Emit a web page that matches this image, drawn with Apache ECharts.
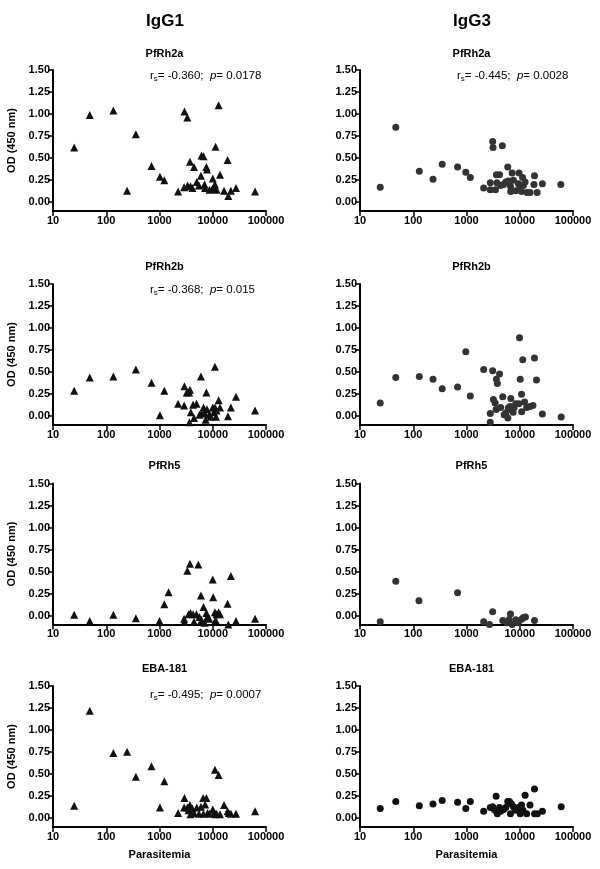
<!DOCTYPE html>
<html><head><meta charset="utf-8">
<script src="https://cdn.jsdelivr.net/npm/echarts@6/dist/echarts.min.js"></script>
<style>html,body{margin:0;padding:0;background:#fff}#c{width:600px;height:869px}</style>
</head><body><div id="c"></div>
<script>
// ---- data: [parasitemia, OD] ----
const columnTitles = ['IgG1', 'IgG3'];
const antigens = ['PfRh2a', 'PfRh2b', 'PfRh5', 'EBA-181'];
const xTicks = [10, 100, 1000, 10000, 100000];
const yTicks = [0, 0.25, 0.5, 0.75, 1, 1.25, 1.5];

const rh2a_IgG1 = [[25,0.62],[49,0.99],[136,1.04],[246,0.13],[360,0.77],[708,0.41],[1020,0.29],[1230,0.25],[2240,0.12],[2940,1.03],[3330,0.96],[2900,0.17],[3370,0.19],[3730,0.46],[3820,0.18],[4140,0.16],[4450,0.40],[5000,0.23],[5500,0.19],[6000,0.30],[6150,0.53],[6700,0.52],[7000,0.20],[7200,0.16],[7600,0.40],[7800,0.37],[8700,0.14],[9800,0.15],[10000,0.27],[10600,0.18],[11000,0.20],[11300,0.63],[11800,0.14],[12900,1.10],[13700,0.31],[16300,0.13],[19000,0.48],[19600,0.07],[21900,0.13],[27300,0.16],[62400,0.12]];
const rh2a_IgG3 = [[24,0.17],[47,0.85],[130,0.35],[235,0.26],[350,0.43],[680,0.40],[970,0.34],[1180,0.28],[2100,0.16],[2800,0.22],[2800,0.14],[3100,0.69],[3150,0.62],[3500,0.14],[3640,0.31],[3740,0.22],[4170,0.31],[4380,0.19],[4700,0.64],[4980,0.20],[5470,0.23],[5950,0.40],[6100,0.24],[6700,0.18],[6750,0.12],[7200,0.33],[7600,0.25],[8400,0.13],[9400,0.21],[9700,0.33],[10200,0.18],[10800,0.12],[11300,0.28],[11700,0.19],[12600,0.23],[13700,0.11],[15600,0.11],[18500,0.20],[18900,0.30],[21200,0.11],[26600,0.21],[59000,0.20]];
const rh2b_IgG1 = [[25,0.29],[49,0.44],[136,0.45],[360,0.53],[708,0.38],[1020,0.01],[1230,0.29],[2240,0.14],[2900,0.12],[2940,0.34],[3250,0.27],[3600,0.27],[3730,0.30],[3650,-0.07],[3870,0.045],[4270,0.13],[4450,-0.02],[4950,0.14],[5620,0.015],[6000,0.45],[6150,0.03],[6700,0.10],[7000,0.04],[7350,-0.04],[7600,0.27],[7800,0.08],[8600,0.015],[9200,-0.005],[10000,0.10],[10500,0.045],[11000,0.56],[11050,0.10],[11500,-0.005],[11800,0.065],[12900,0.18],[13700,0.10],[19300,0.0],[21900,0.10],[27300,0.22],[62400,0.065]];
const rh2b_IgG3 = [[24,0.15],[47,0.44],[130,0.45],[235,0.42],[350,0.31],[680,0.33],[970,0.73],[1180,0.23],[2100,0.53],[2800,0.03],[2790,-0.07],[3100,0.515],[3200,0.19],[3450,0.15],[3600,0.075],[3640,0.42],[3800,0.37],[4170,0.48],[4380,0.10],[4800,0.22],[5100,0.015],[5500,0.04],[5980,-0.02],[6100,0.095],[6600,0.11],[6800,0.20],[7000,0.075],[7500,0.045],[7800,0.095],[8400,0.14],[9600,0.14],[9900,0.89],[10200,0.42],[10800,0.25],[10850,0.05],[11400,0.64],[12300,0.16],[13500,0.10],[15600,0.11],[17700,0.12],[18900,0.66],[20600,0.41],[26600,0.025],[60000,-0.01]];
const rh5_IgG1 = [[25,0.01],[49,-0.06],[136,0.01],[360,-0.03],[1000,-0.06],[1230,0.13],[1480,0.265],[2940,-0.07],[2900,-0.035],[3330,0.51],[3730,0.59],[3500,0.015],[3820,0.03],[4270,0.015],[4450,-0.07],[4950,0.015],[5350,0.58],[5620,-0.015],[6000,0.23],[6150,-0.05],[6700,0.10],[7000,-0.08],[7600,0.03],[7900,-0.015],[8600,-0.035],[10000,0.41],[10200,0.21],[11000,0.04],[11300,-0.05],[11800,0.015],[12900,0.04],[13700,0.015],[19000,0.135],[19600,-0.10],[21900,0.45],[27300,-0.06],[62400,-0.035]];
const rh5_IgG3 = [[24,-0.07],[47,0.39],[128,0.17],[680,0.26],[2100,-0.07],[2700,-0.10],[3100,0.045],[4800,-0.055],[5700,-0.08],[6300,-0.045],[6700,0.02],[7200,-0.10],[8400,-0.045],[9400,-0.08],[10800,-0.04],[11700,-0.02],[12800,-0.015],[18900,-0.055]];
const eba_IgG1 = [[25,0.14],[49,1.22],[136,0.74],[246,0.755],[360,0.47],[708,0.59],[1020,0.12],[1230,0.42],[2240,0.06],[2940,0.23],[2900,0.12],[3330,0.12],[3500,0.09],[3730,0.15],[3820,0.045],[4140,0.11],[4450,0.06],[5000,0.12],[5500,0.05],[6000,0.13],[6600,0.23],[6700,0.05],[7200,0.155],[7600,0.23],[8000,0.06],[8700,0.05],[10000,0.10],[10600,0.06],[11000,0.55],[11300,0.045],[11800,0.05],[12900,0.49],[13700,0.045],[16300,0.15],[19000,0.08],[20000,0.06],[21900,0.05],[27300,0.05],[62400,0.08]];
const eba_IgG3 = [[24,0.11],[47,0.19],[130,0.14],[235,0.16],[350,0.20],[680,0.18],[970,0.11],[1180,0.19],[2100,0.08],[2800,0.12],[3100,0.13],[3330,0.10],[3600,0.25],[3620,0.08],[3800,0.05],[4170,0.12],[4380,0.08],[4980,0.10],[5470,0.12],[5950,0.19],[6400,0.19],[6700,0.05],[7000,0.16],[7600,0.13],[8400,0.09],[9400,0.12],[10200,0.05],[10800,0.15],[11500,0.09],[12600,0.26],[13500,0.05],[15600,0.15],[18900,0.33],[18950,0.05],[21400,0.05],[26600,0.08],[60000,0.13]];

const panels = [
  [rh2a_IgG1, rh2a_IgG3],
  [rh2b_IgG1, rh2b_IgG3],
  [rh5_IgG1, rh5_IgG3],
  [eba_IgG1, eba_IgG3]
];
const stats = {
  '0_0': ['-0.360', '0.0178'],
  '0_1': ['-0.445', '0.0028'],
  '1_0': ['-0.368', '0.015'],
  '3_0': ['-0.495', '0.0007']
};

// ---- layout ----
const FONT = '"Liberation Sans", Arial, sans-serif';
const colLeft = [53, 360];
const gridW = 213;
const rowTop = [70, 284, 483.5, 686];
const gridH = 141;
const titleY = [43, 256, 455, 658];
const statY = [70, 284, 0, 689];

const grid = [], xAxis = [], yAxis = [], series = [], title = [], graphic = [];
title.push({text: columnTitles[0], left: 160, top: 8, textAlign: 'center', textStyle: {fontFamily: FONT, fontSize: 17, fontWeight: 'bold', color: '#000'}});
title.push({text: columnTitles[1], left: 467, top: 8, textAlign: 'center', textStyle: {fontFamily: FONT, fontSize: 17, fontWeight: 'bold', color: '#000'}});

let idx = 0;
for (let r = 0; r < 4; r++) {
  for (let c = 0; c < 2; c++) {
    grid.push({left: colLeft[c], top: rowTop[r], width: gridW, height: gridH, containLabel: false});
    xAxis.push({
      type: 'log', logBase: 10, min: 10, max: 100000, gridIndex: idx, position: 'bottom',
      axisLine: {onZero: false, lineStyle: {color: '#000', width: 2}},
      axisTick: {length: 5, lineStyle: {color: '#000', width: 1.5}},
      minorTick: {show: false}, splitLine: {show: false},
      axisLabel: {fontFamily: FONT, fontSize: 11, fontWeight: 'bold', color: '#000', margin: 4,
        formatter: v => String(Math.round(v))},
      name: r === 3 ? 'Parasitemia' : '', nameLocation: 'middle', nameGap: 22,
      nameTextStyle: {fontFamily: FONT, fontSize: 11, fontWeight: 'bold', color: '#000'}
    });
    yAxis.push({
      type: 'value', min: -0.1, max: 1.5, gridIndex: idx,
      axisLine: {show: true, onZero: false, lineStyle: {color: '#000', width: 2}},
      axisTick: {show: true, length: 5, customValues: yTicks, lineStyle: {color: '#000', width: 1.5}},
      splitLine: {show: false},
      axisLabel: {customValues: yTicks, fontFamily: FONT, fontSize: 11, fontWeight: 'bold', color: '#000', margin: 3,
        formatter: v => v.toFixed(2)},
      name: c === 0 ? 'OD (450 nm)' : '', nameLocation: 'middle', nameGap: 36, nameRotate: 90,
      nameTextStyle: {fontFamily: FONT, fontSize: 11, fontWeight: 'bold', color: '#000'}
    });
    const isTri = c === 0;
    series.push({
      type: 'scatter', xAxisIndex: idx, yAxisIndex: idx,
      symbol: isTri ? 'triangle' : 'circle',
      symbolSize: isTri ? 8 : 7,
      itemStyle: {color: isTri ? '#111' : (r === 3 ? '#111' : '#333'), opacity: 1},
      data: panels[r][c], silent: true
    });
    title.push({text: antigens[r], left: colLeft[c] + gridW / 2, top: titleY[r], textAlign: 'center',
      textStyle: {fontFamily: FONT, fontSize: 11, fontWeight: 'bold', color: '#000'}});
    const st = stats[r + '_' + c];
    if (st) {
      graphic.push({type: 'text', left: colLeft[c] + 97, top: statY[r],
        style: {
          text: '{n|r}{s|s}{n|= ' + st[0] + ';  }{i|p}{n|= ' + st[1] + '}',
          rich: {
            n: {fontFamily: FONT, fontSize: 11.5, color: '#000'},
            s: {fontFamily: FONT, fontSize: 8, color: '#000', verticalAlign: 'bottom', padding: [6, 0, 0, 0]},
            i: {fontFamily: FONT, fontSize: 11.5, fontStyle: 'italic', color: '#000'}
          }
        }
      });
    }
    idx++;
  }
}

const chart = echarts.init(document.getElementById('c'), null, {renderer: 'canvas'});
chart.setOption({animation: false, backgroundColor: '#fff', title, grid, xAxis, yAxis, series, graphic});
</script></body></html>
